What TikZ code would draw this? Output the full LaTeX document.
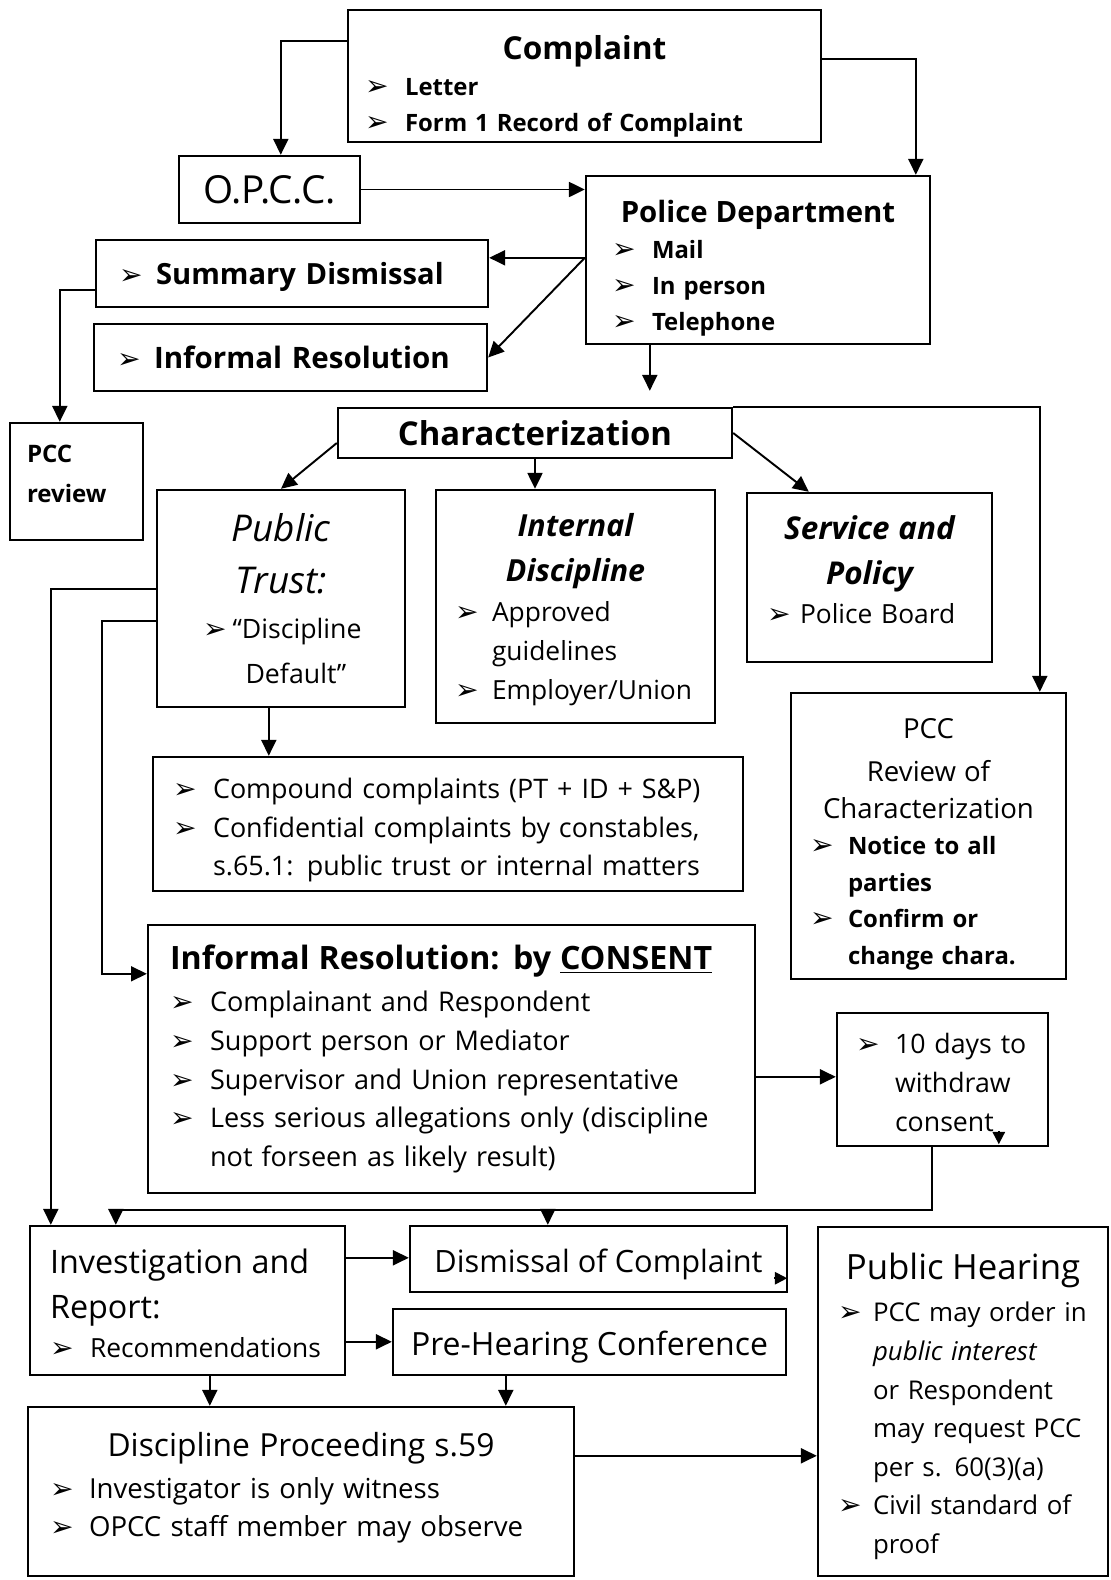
\documentclass[tikz,border=0pt]{standalone}
\usepackage{fontspec}
\setmainfont{Open Sans}
\newfontfamily\bulfont{DejaVu Sans}
\usetikzlibrary{arrows.meta,positioning,calc}

\newcommand{\setsz}[1]{\fontsize{#1}{#1}\selectfont}
\newcommand{\bul}[2][0.8cm]{\mbox{\makebox[#1][l]{\bulfont\setsz{16}➢}#2}}
\newcommand{\ind}[2][0.8cm]{\mbox{\hspace*{#1}#2}}
\newcommand{\boxtitle}[1]{\makebox[\linewidth]{#1}}
\newcommand{\padtop}[1]{\rule{0pt}{#1}}
\newcommand{\padbot}[1]{\rule[-#1]{0pt}{#1}}

\begin{document}
\begin{tikzpicture}[x=0.02cm, y=-0.02cm]
  \tikzstyle{box}=[rectangle, draw, line width=1.4pt, inner sep=0pt, align=left]
  \tikzstyle{conn}=[line width=1.1pt, -{Triangle[length=9pt, width=8.5pt]}]
  \tikzstyle{tip}=[line width=1.1pt, -{Triangle[length=7pt, width=7pt]}]
  \tikzstyle{wire}=[line width=1.1pt]
  \useasboundingbox (0,0) rectangle (1111,1580);

  \node[box, minimum width=9.46cm, minimum height=2.64cm, text width=8.78cm, font=\bfseries\fontsize{13.6}{20}\selectfont] (cmp) at (584.5,76)
    {\padtop{25pt}\boxtitle{\setsz{18}Complaint}\\[1pt]\bul{Letter}\\\bul{Form 1 Record of Complaint}};
  \node[box, minimum width=3.62cm, minimum height=1.34cm, align=center, font=\fontsize{22}{24}\selectfont] (opcc) at (269.5,189.5) {O.P.C.C.};
  \node[box, minimum width=6.88cm, minimum height=3.36cm, text width=5.84cm, font=\bfseries\fontsize{13.6}{20.5}\selectfont] (pd) at (758,260)
    {\padtop{21.8pt}\boxtitle{\setsz{16.7}Police Department}\\\bul{Mail}\\\bul{In person}\\\bul{Telephone}};
  \node[box, minimum width=7.84cm, minimum height=1.34cm, text width=6.92cm, font=\bfseries\fontsize{16.6}{20}\selectfont] (sumd) at (292,273.5) {\padtop{16pt}\bul[0.74cm]{Summary Dismissal}};
  \node[box, minimum width=7.86cm, minimum height=1.34cm, text width=6.94cm, font=\bfseries\fontsize{16.8}{20}\selectfont] (infr) at (290.5,357.5) {\bul[0.74cm]{Informal Resolution}};
  \node[box, minimum width=2.66cm, minimum height=2.34cm, text width=1.98cm, font=\bfseries\fontsize{13.7}{22.8}\selectfont] (pccr) at (76.5,481.5) {PCC\\review\padbot{8.5pt}};

  \node[box, minimum width=7.88cm, minimum height=1cm, align=center, font=\bfseries\fontsize{18.7}{22}\selectfont] (chr) at (535,433) {Characterization};
  \node[box, minimum width=4.96cm, minimum height=4.34cm, text width=3.12cm, font=\fontsize{15.2}{25.6}\selectfont] (pt) at (281,598.5)
    {\boxtitle{\itshape\setsz{21}Public}\\[4pt]\boxtitle{\itshape\setsz{21}Trust:}\\\bul[0.59cm]{“Discipline}\\\ind[0.85cm]{Default”}};
  \node[box, minimum width=5.58cm, minimum height=4.66cm, text width=4.82cm, font=\fontsize{15}{22.2}\selectfont] (intd) at (575.5,606.5)
    {\padtop{16.5pt}\boxtitle{\bfseries\itshape\setsz{17.3}Internal}\\[3.4pt]\boxtitle{\bfseries\itshape\setsz{17.3}Discipline}\\[0.6pt]\bul[0.74cm]{Approved}\\\ind[0.74cm]{guidelines}\\\bul[0.74cm]{Employer/Union}};
  \node[box, minimum width=4.9cm, minimum height=3.38cm, text width=4.1cm, font=\fontsize{15}{22.2}\selectfont] (svc) at (869.5,577.5)
    {\boxtitle{\bfseries\itshape\setsz{17.9}Service and}\\[3pt]\boxtitle{\bfseries\itshape\setsz{17.9}Policy}\\\bul[0.66cm]{Police Board}\padbot{9pt}};
  \node[box, minimum width=5.5cm, minimum height=5.72cm, text width=4.74cm, font=\bfseries\fontsize{13.6}{20.8}\selectfont] (pccc) at (928.5,836)
    {\padtop{20.5pt}\boxtitle{\mdseries\setsz{15.7}PCC}\\[4pt]\boxtitle{\mdseries\setsz{15.7}Review of}\\\boxtitle{\mdseries\setsz{15.7}Characterization}\\\bul[0.76cm]{Notice to all}\\\ind[0.76cm]{parties}\\\bul[0.76cm]{Confirm or}\\\ind[0.76cm]{change chara.}};

  \node[box, minimum width=11.8cm, minimum height=2.68cm, text width=11cm, font=\fontsize{15.3}{21.9}\selectfont] (cmpd) at (448,824)
    {\padtop{18.5pt}\bul{Compound complaints (PT + ID + S\&P)}\\\bul{Confidential complaints by constables,}\\\ind{s.65.1: public trust or internal matters}};
  \node[box, minimum width=12.14cm, minimum height=5.36cm, text width=11.26cm, font=\fontsize{15.4}{22}\selectfont] (cons) at (451.5,1059)
    {\mbox{\bfseries\setsz{18.3}Informal Resolution: by \underline{CONSENT}}\\[2pt]\bul{Complainant and Respondent}\\\bul{Support person or Mediator}\\\bul{Supervisor and Union representative}\\\bul{Less serious allegations only (discipline}\\\ind{not forseen as likely result)}};
  \node[box, minimum width=4.22cm, minimum height=2.66cm, text width=3.46cm, font=\fontsize{15.2}{22.2}\selectfont] (tend) at (942.5,1079.5)
    {\padtop{15pt}\bul[0.78cm]{10 days to}\\\ind[0.78cm]{withdraw}\\\ind[0.78cm]{consent}};

  \node[box, minimum width=6.3cm, minimum height=2.98cm, text width=5.5cm, font=\fontsize{15}{22}\selectfont] (inv) at (187.5,1300.5)
    {\padtop{17.4pt}\mbox{\setsz{18.4}Investigation and}\\[3.6pt]\mbox{\setsz{18.4}Report:}\\\bul{Recommendations}};
  \node[box, minimum width=7.54cm, minimum height=1.32cm, align=center, font=\fontsize{17.5}{22}\selectfont] (dism) at (598.5,1259) {\rule{0pt}{19pt}Dismissal of Complaint};
  \node[box, minimum width=7.86cm, minimum height=1.32cm, align=center, font=\fontsize{18.2}{22}\selectfont] (preh) at (589.5,1342) {\rule{0pt}{19.5pt}Pre-Hearing Conference};
  \node[box, minimum width=10.92cm, minimum height=3.38cm, text width=10.04cm, font=\fontsize{15.7}{21.6}\selectfont] (dscp) at (301,1491.5)
    {\boxtitle{\setsz{18.1}Discipline Proceeding s.59}\\[2pt]\bul[0.78cm]{Investigator is only witness}\\\bul[0.78cm]{OPCC staff member may observe}\padbot{8.3pt}};
  \node[box, minimum width=5.8cm, minimum height=6.98cm, text width=5cm, font=\fontsize{14.7}{22}\selectfont] (pubh) at (963,1401.5)
    {\padtop{20.7pt}\boxtitle{\setsz{19.8}Public Hearing}\\[2pt]\bul[0.7cm]{PCC may order in}\\\ind[0.7cm]{\itshape public interest}\\\ind[0.7cm]{or Respondent}\\\ind[0.7cm]{may request PCC}\\\ind[0.7cm]{per s. 60(3)(a)}\\\bul[0.7cm]{Civil standard of}\\\ind[0.7cm]{proof}};

  % connectors
  \draw[conn] ($(cmp.north west)+(0,32)$) -| ($(opcc.north west)+(103,0)$);
  \draw[conn] ($(cmp.north east)+(0,50)$) -| ($(pd.north west)+(331,0)$);
  \draw[conn] (opcc.east) -- (opcc.east -| pd.west);
  \coordinate (pdl) at ($(pd.north west)+(0,83)$);
  \draw[conn] (pdl) -- (pdl -| sumd.east);
  \draw[conn] (pdl) -- (infr.east);
  \draw[conn] ($(sumd.north west)+(0,51)$) -| ($(pccr.north west)+(51,0)$);
  \coordinate (pdb) at ($(pd.south west)+(65,0)$);
  \draw[conn, shorten >=0.32cm] (pdb) -- (pdb |- chr.north);

  \draw[conn] ($(chr.west)+(0,10)$) -- (pt.north);
  \draw[conn] (chr.south) -- (chr.south |- intd.north);
  \draw[conn] (chr.east) -- ($(svc.north west)+(63,0)$);
  \draw[conn] (chr.north east) -| ($(pccc.north west)+(250,0)$);
  \coordinate (ptb) at ($(pt.south west)+(113,0)$);
  \draw[conn] (ptb) -- (ptb |- cmpd.north);
  \draw[conn] ($(pt.north west)+(0,100)$) -| ($(inv.north west)+(22,0)$);
  \draw[conn] ($(pt.north west)+(0,132)$) -- ++(-54,0) |- ($(cons.north west)+(0,50)$);
  \coordinate (consr) at ($(cons.north east)+(0,153)$);
  \draw[conn] (consr) -- (consr -| tend.west);

  \coordinate (jl) at ($(inv.north west)+(87,-15)$);
  \coordinate (jr) at ($(dism.north west)+(139,-15)$);
  \draw[wire] ($(tend.south west)+(96,0)$) |- (jl);
  \draw[conn] (jl) -- (jl |- inv.north);
  \draw[conn] (jr) -- (jr |- dism.north);
  \coordinate (invr1) at ($(inv.north east)+(0,33)$);
  \draw[conn] (invr1) -- (invr1 -| dism.west);
  \coordinate (invr2) at ($(inv.north east)+(0,117)$);
  \draw[conn] (invr2) -- (invr2 -| preh.west);
  \coordinate (invb) at ($(inv.south west)+(181,0)$);
  \draw[conn] (invb) -- (invb |- dscp.north);
  \coordinate (prhb) at ($(preh.south west)+(114,0)$);
  \draw[conn] (prhb) -- (prhb |- dscp.north);
  \coordinate (dscr) at ($(dscp.north east)+(0,50)$);
  \draw[conn] (dscr) -- (dscr -| pubh.west);

  % loose tips
  \draw[tip] ($(tend.south west)+(163,-16)$) -- ($(tend.south west)+(163,-3)$);
  \draw[tip] ($(dism.south east)+(-14,-15)$) -- ($(dism.south east)+(-1,-15)$);
\end{tikzpicture}
\end{document}
